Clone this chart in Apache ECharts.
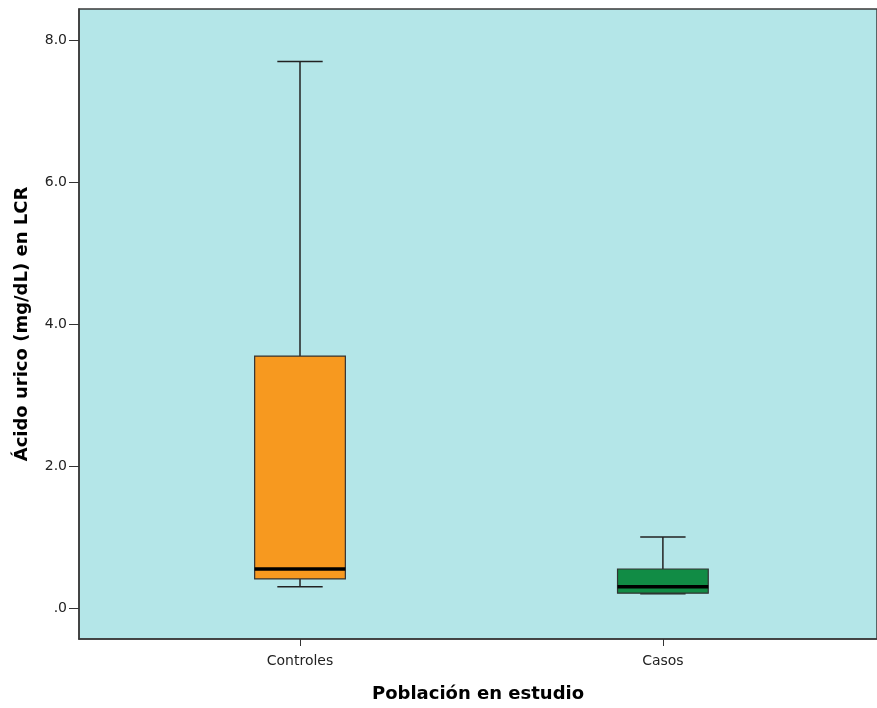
<!DOCTYPE html>
<html>
<head>
<meta charset="utf-8">
<script src="https://cdn.jsdelivr.net/npm/echarts@6/dist/echarts.min.js"></script>
<style>html,body{margin:0;padding:0;background:#fff}#c{width:877px;height:708px}</style>
</head>
<body>
<div id="c"></div>
<script>
const categories = ['Controles', 'Casos'];
const whiskerLow = [0.3, 0.2];
const q1 = [0.41, 0.21];
const median = [0.55, 0.30];
const q3 = [3.55, 0.55];
const whiskerHigh = [7.7, 1.0];
const yTicks = [0, 2, 4, 6, 8];
const boxColors = ['#f7991f', '#118c45'];

const boxData = categories.map((c, i) => [i, whiskerLow[i], q1[i], median[i], q3[i], whiskerHigh[i]]);

function renderItem(params, api) {
  const x = api.value(0);
  const pLow = api.coord([x, api.value(1)]);
  const pQ1 = api.coord([x, api.value(2)]);
  const pMed = api.coord([x, api.value(3)]);
  const pQ3 = api.coord([x, api.value(4)]);
  const pHigh = api.coord([x, api.value(5)]);
  const bw = api.size([1, 0])[0] * 0.25;
  const cw = bw / 2;
  const cx = pMed[0];
  const lineStyle = { stroke: '#222', lineWidth: 1.5 };
  return {
    type: 'group',
    children: [
      { type: 'line', shape: { x1: cx, y1: pHigh[1], x2: cx, y2: pQ3[1] }, style: lineStyle },
      { type: 'line', shape: { x1: cx, y1: pQ1[1], x2: cx, y2: pLow[1] }, style: lineStyle },
      { type: 'line', shape: { x1: cx - cw / 2, y1: pHigh[1], x2: cx + cw / 2, y2: pHigh[1] }, style: lineStyle },
      { type: 'line', shape: { x1: cx - cw / 2, y1: pLow[1], x2: cx + cw / 2, y2: pLow[1] }, style: lineStyle },
      { type: 'rect', shape: { x: cx - bw / 2, y: pQ3[1], width: bw, height: pQ1[1] - pQ3[1] },
        style: { fill: boxColors[params.dataIndex], stroke: '#333', lineWidth: 1.2 } },
      { type: 'line', shape: { x1: cx - bw / 2, y1: pMed[1], x2: cx + bw / 2, y2: pMed[1] }, style: { stroke: '#000', lineWidth: 3.5 } }
    ]
  };
}

const chart = echarts.init(document.getElementById('c'), null, { renderer: 'canvas' });
chart.setOption({
  animation: false,
  backgroundColor: '#fff',
  grid: { left: 79, top: 9, right: 0, bottom: 68, show: true, backgroundColor: '#b4e6e8', borderColor: '#3a3a3a', borderWidth: 1.5 },
  xAxis: {
    type: 'value', min: -0.609, max: 1.59,
    name: 'Población en estudio', nameLocation: 'middle', nameGap: 46,
    nameTextStyle: { fontFamily: 'DejaVu Sans', fontWeight: 'bold', fontSize: 18, color: '#000' },
    axisLine: { show: true, onZero: false, lineStyle: { color: '#3a3a3a', width: 1.5 } },
    splitLine: { show: false },
    axisTick: { show: true, length: 7, customValues: [0, 1], lineStyle: { color: '#333' } },
    axisLabel: { customValues: [0, 1], formatter: v => categories[Math.round(v)] || '', fontFamily: 'DejaVu Sans', fontSize: 14, color: '#222', margin: 15 }
  },
  yAxis: {
    type: 'value', min: -0.436, max: 8.44,
    name: 'Ácido urico (mg/dL) en LCR', nameLocation: 'middle', nameGap: 48,
    nameTextStyle: { fontFamily: 'DejaVu Sans', fontWeight: 'bold', fontSize: 18, color: '#000' },
    axisLine: { show: true, onZero: false, lineStyle: { color: '#3a3a3a', width: 1.5 } },
    splitLine: { show: false },
    axisTick: { show: true, length: 10, customValues: yTicks, lineStyle: { color: '#333' } },
    axisLabel: { customValues: yTicks, formatter: v => v === 0 ? '.0' : v.toFixed(1), fontFamily: 'DejaVu Sans', fontSize: 14, color: '#222', margin: 12 }
  },
  series: [{
    type: 'custom',
    renderItem: renderItem,
    encode: { x: 0, y: [1, 2, 3, 4, 5] },
    data: boxData
  }]
});
</script>
</body>
</html>
